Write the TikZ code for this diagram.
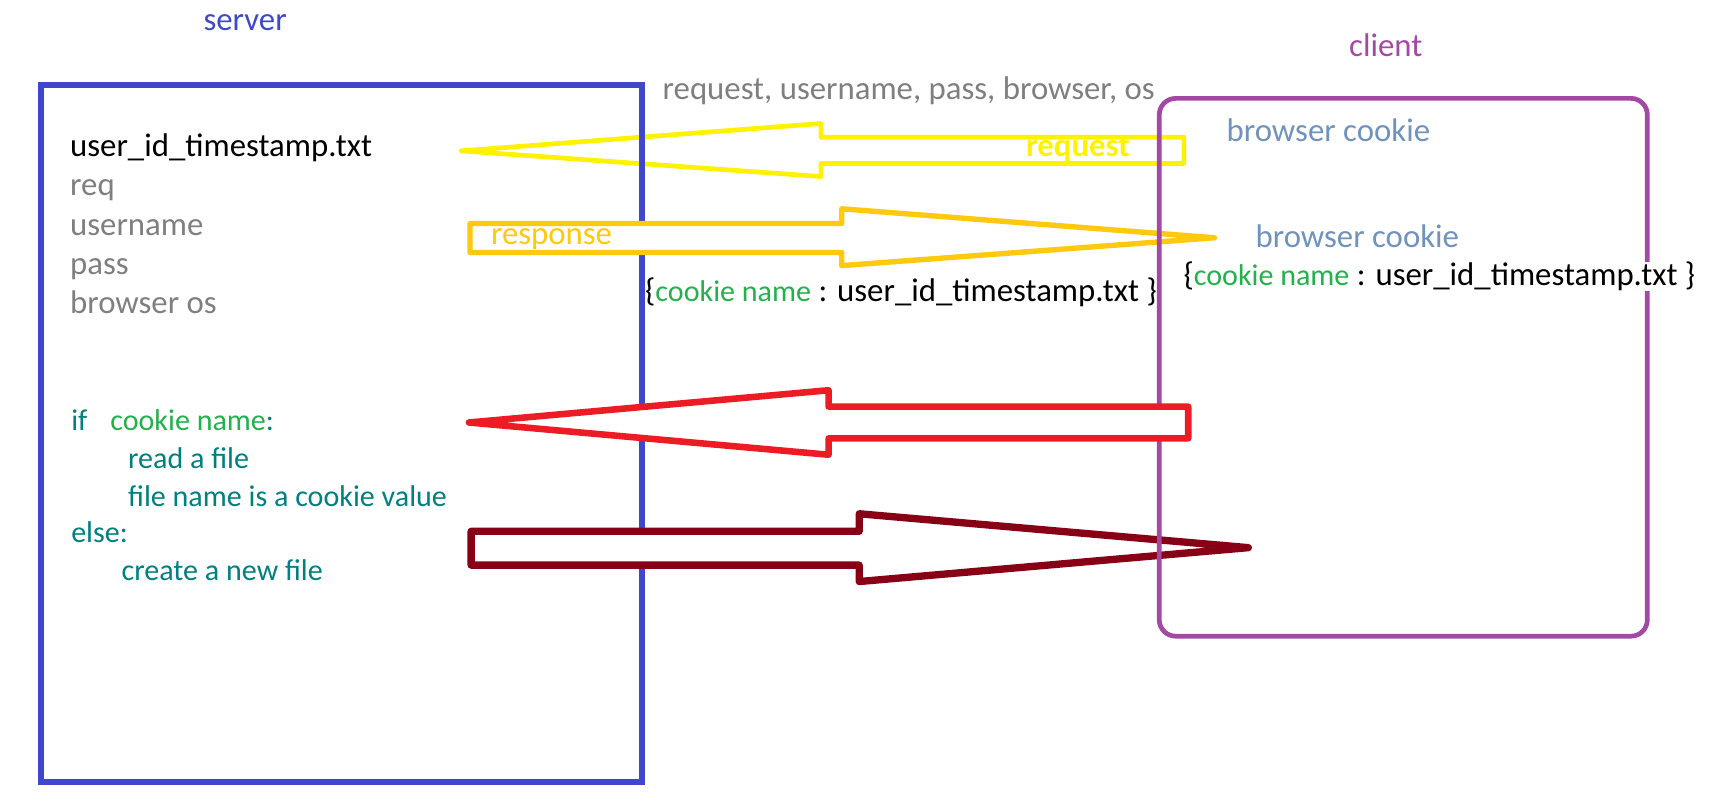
\documentclass[tikz,border=0pt]{standalone}
\usepackage{fontspec}
\setmainfont{Carlito}
\definecolor{serverblue}{RGB}{63,72,204}
\definecolor{clientpurple}{RGB}{163,73,164}
\definecolor{reqyellow}{RGB}{255,242,0}
\definecolor{respgold}{RGB}{255,201,14}
\definecolor{arrowred}{RGB}{237,28,36}
\definecolor{arrowdark}{RGB}{136,0,21}
\definecolor{labelgray}{RGB}{127,127,127}
\definecolor{codeteal}{RGB}{0,128,128}
\definecolor{cookiegreen}{RGB}{34,177,76}
\definecolor{cookieblue}{RGB}{112,146,190}
\def\bigfont{\fontsize{30}{36}\selectfont}
\def\smallfont{\fontsize{27.5}{34}\selectfont}
\newcommand{\cookiepair}{\{{\smallfont\textcolor{cookiegreen}{cookie name}} : user\_id\_timestamp.txt \}}
\tikzset{
  txt/.style={anchor=base west, inner sep=0pt, font=\bigfont},
  codetxt/.style={anchor=base west, inner sep=0pt, font=\smallfont, text=codeteal},
  blockarrow/.style={line width=#1, line join=round},
}

\begin{document}
\begin{tikzpicture}[x=1pt,y=-1pt]
\useasboundingbox (0,0) rectangle (1568,733);

% Request arrow (outline only, box line shows through)
\draw[reqyellow, blockarrow=4.3] (422,138) -- (751,113) -- (751,125.5) -- (1083,125.5) -- (1083,149.5) -- (751,149.5) -- (751,161.5) -- cycle;

% Server box
\draw[serverblue, line width=5.5] (37.5,78) rectangle (587,715);

% Response arrow
\draw[respgold, blockarrow=4.9, fill=white] (430,204.5) -- (770,204.5) -- (770,191) -- (1111,217.5) -- (770,243) -- (770,231) -- (430,231) -- cycle;

% New file arrow
\draw[arrowdark, blockarrow=6.7, fill=white] (431,486) -- (786,486) -- (786,470) -- (1142,501) -- (786,532) -- (786,517) -- (431,517) -- cycle;

% Client box
\draw[clientpurple, line width=4.3, rounded corners=15] (1060.5,90) rectangle (1507,582);

% Cookie arrow (covers both box lines)
\draw[arrowred, blockarrow=6, fill=white] (429,386.5) -- (758,357) -- (758,372) -- (1087,372) -- (1087,401) -- (758,401) -- (758,416) -- cycle;

% Titles
\node[txt, text=serverblue] (server) at (186,28) {server};
\node[txt, text=clientpurple] (client) at (1234,52) {client};

% Message labels
\node[txt, text=labelgray] (fields) at (606,91) {request, username, pass, browser, os};
\node[txt, text=reqyellow, font=\bigfont\bfseries] (request) at (938.5,143) {request};
\node[txt, text=respgold] (response) at (449,223.5) {response};
\node[txt] (midpair) at (590,276) {\cookiepair};

% Server side
\node[txt] (file) at (64,143) {user\_id\_timestamp.txt};
\node[txt, text=labelgray] (req) at (64,179) {req};
\node[txt, text=labelgray] (user) at (64,215) {username};
\node[txt, text=labelgray] (pass) at (64,251) {pass};
\node[txt, text=labelgray] (bros) at (64,287) {browser os};

\node[codetxt] (ifline) at (65,394) {if\hspace{21pt}\textcolor{cookiegreen}{cookie name}:};
\node[codetxt] (readline) at (117,429) {read a file};
\node[codetxt] (nameline) at (117,463) {file name is a cookie value};
\node[codetxt] (elseline) at (65,496) {else:};
\node[codetxt] (createline) at (111,531) {create a new file};

% Client side
\node[txt, text=cookieblue] (cookie1) at (1122,129) {browser cookie};
\node[txt, text=cookieblue] (cookie2) at (1148.5,226.5) {browser cookie};
\node[txt, fill=white] (clientpair) at (1082.5,261) {\cookiepair};

\end{tikzpicture}
\end{document}
